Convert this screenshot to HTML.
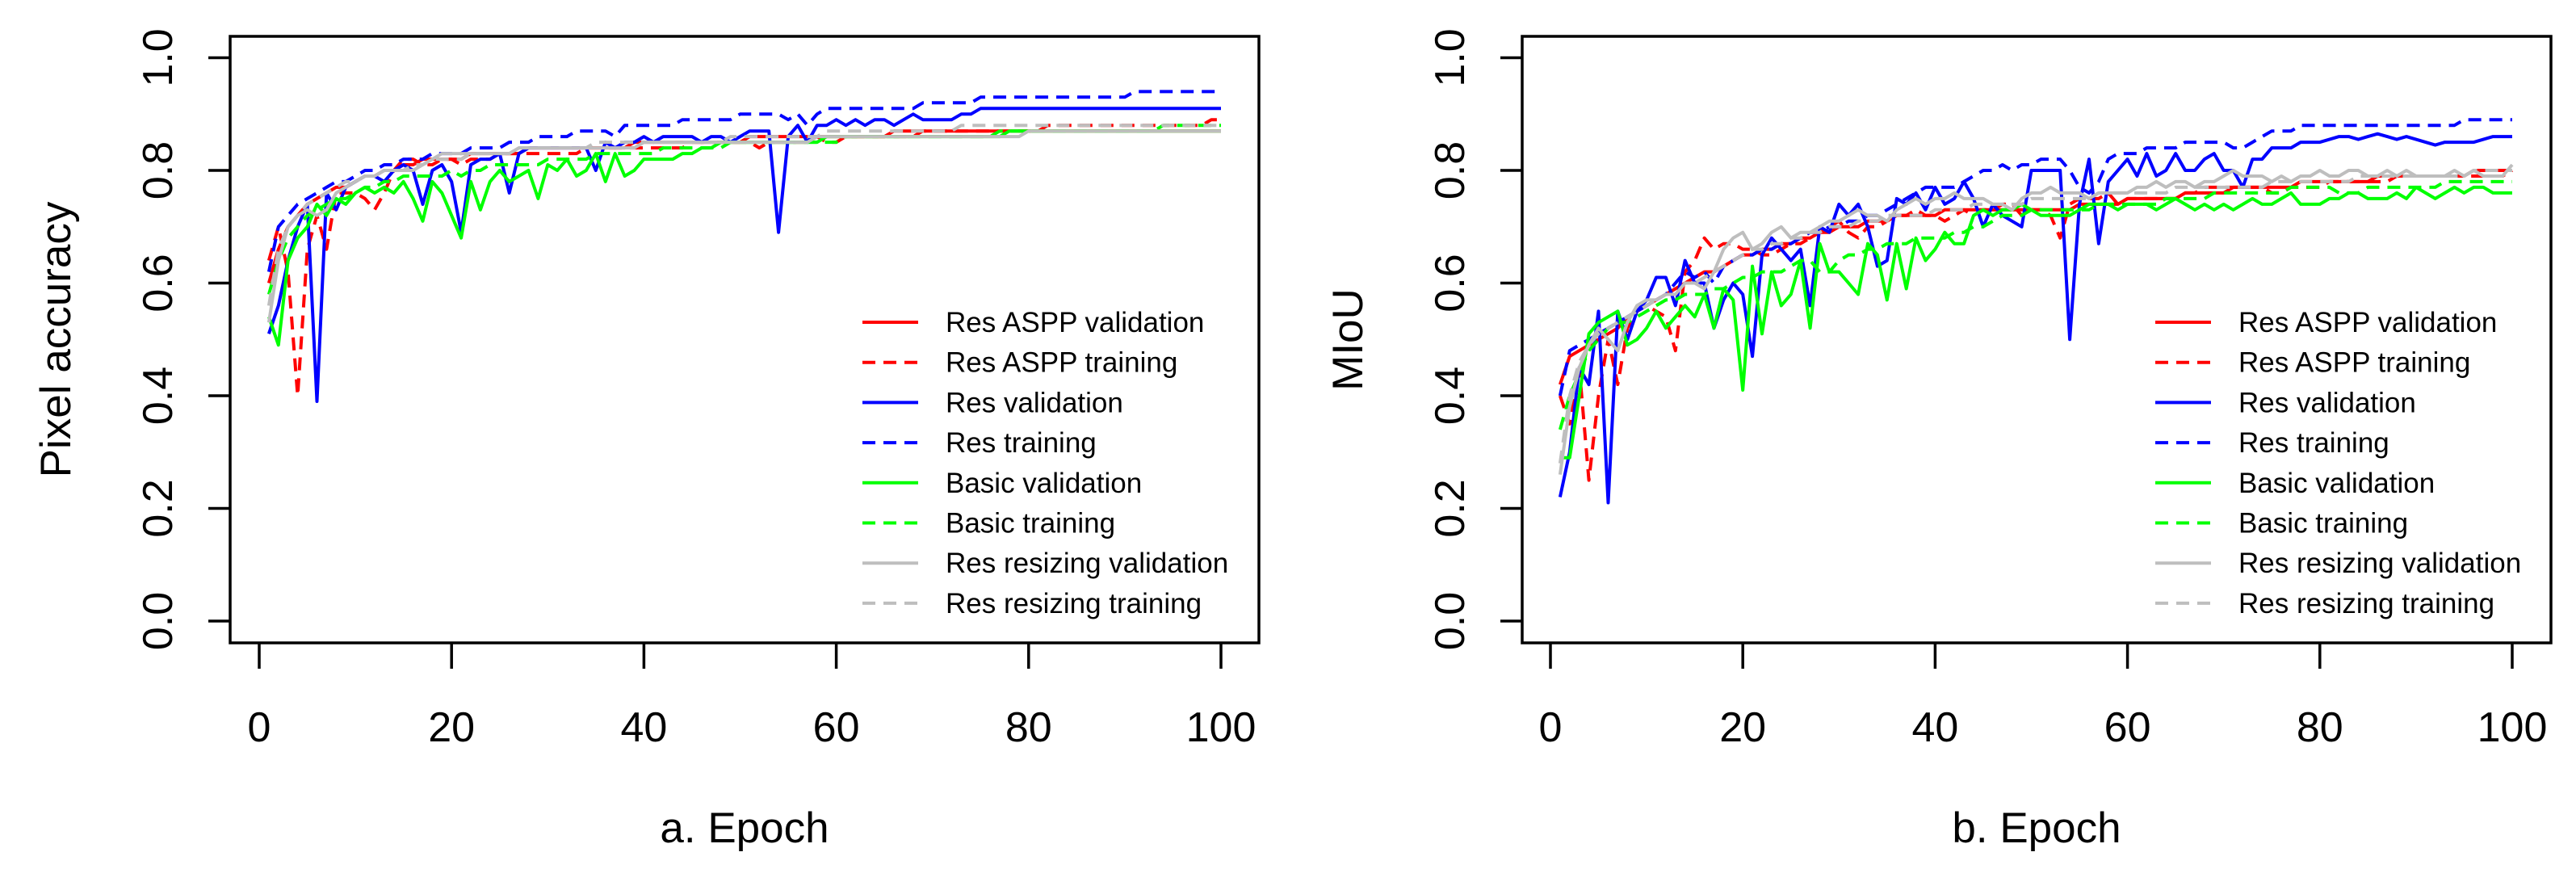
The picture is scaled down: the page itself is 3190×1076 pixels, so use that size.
<!DOCTYPE html>
<html><head><meta charset="utf-8"><style>
html,body{margin:0;padding:0;background:#fff;}
svg{display:block;font-family:"Liberation Sans",Arial,sans-serif;}
</style></head><body>
<svg id="chart" width="3190" height="1076" viewBox="0 0 3190 1076" xmlns="http://www.w3.org/2000/svg"></svg>
<script>
const epochs = Array.from({length:100},(_,i)=>i+1);
const xTicks = [0,20,40,60,80,100];
const yTicks = [0.0,0.2,0.4,0.6,0.8,1.0];
const seriesNames = ["Res ASPP validation","Res ASPP training","Res validation","Res training","Basic validation","Basic training","Res resizing validation","Res resizing training"];

// Pixel accuracy (x100)
const paRedV=[60,66,70,72,74,75,76,77,77,78,79,79,80,80,81,81,82,82,82,82,82,83,83,83,83,83,83,84,84,84,84,84,84,84,84,84,84,84,85,85,85,85,85,85,85,85,85,85,85,85,86,86,86,86,86,86,86,86,86,86,86,86,86,86,86,87,87,87,87,87,87,87,87,87,87,87,87,87,87,87,87,87,87,87,87,87,87,87,87,87,87,87,87,87,87,87,87,87,87,87];
const paRedT=[64,70,62,40,66,72,66,76,76,76,75,73,76,80,82,82,81,81,82,82,81,82,82,82,83,83,83,83,83,83,83,83,83,84,84,84,84,84,84,84,84,84,84,84,85,85,85,85,85,85,85,84,85,85,85,85,85,86,85,85,86,86,86,86,86,86,86,86,87,87,87,87,87,87,87,87,87,87,87,87,87,88,88,88,88,88,88,88,88,88,88,88,88,88,88,88,88,88,89,89];
const paBlueV=[51,56,64,70,74,39,76,73,77,78,79,79,78,80,81,80,74,80,81,78,69,81,82,82,83,76,83,84,84,84,84,84,84,84,80,85,84,85,85,86,85,86,86,86,86,85,86,86,85,86,87,87,87,69,86,88,85,88,88,89,88,89,88,89,89,88,89,90,89,89,89,89,90,90,91,91,91,91,91,91,91,91,91,91,91,91,91,91,91,91,91,91,91,91,91,91,91,91,91,91];
const paBlueT=[62,70,72,74,75,76,77,78,78,79,80,80,81,81,82,82,82,83,83,83,83,84,84,84,84,85,85,85,86,86,86,86,87,87,87,87,86,88,88,88,88,88,88,89,89,89,89,89,89,90,90,90,90,90,89,90,88,90,91,91,91,91,91,91,91,91,91,91,92,92,92,92,92,92,93,93,93,93,93,93,93,93,93,93,93,93,93,93,93,93,94,94,94,94,94,94,94,94,94,94];
const paGreenV=[54,49,64,68,70,74,72,75,74,76,77,76,77,76,78,75,71,78,76,72,68,78,73,78,80,78,79,80,75,81,80,82,79,80,83,78,83,79,80,82,82,82,82,83,83,84,84,85,85,85,85,85,85,85,85,85,85,85,86,86,86,86,86,86,86,86,86,86,86,86,86,86,86,86,86,86,86,87,87,87,87,87,87,87,87,87,87,87,87,87,87,87,87,87,87,87,87,87,87,87];
const paGreenT=[58,64,68,70,72,73,74,75,75,76,77,77,78,78,79,79,79,79,79,80,79,80,80,81,81,81,81,81,81,82,82,82,82,82,83,83,83,83,83,83,83,84,84,84,84,84,84,84,85,85,85,85,85,85,85,85,85,85,85,85,86,86,86,86,86,86,86,86,86,86,86,86,86,86,86,86,87,87,87,87,87,87,87,87,87,87,87,87,87,87,87,87,87,88,88,88,88,88,88,88];
const paGrayV=[53,64,70,72,73,72,73,76,77,78,79,79,80,80,80,80,81,82,83,83,83,83,83,83,83,83,84,84,84,84,84,84,84,84,84,84,84,84,84,85,85,85,85,85,85,85,85,85,85,85,85,85,85,85,85,85,85,86,86,86,86,86,86,86,86,86,86,86,86,86,86,86,86,86,86,86,86,86,86,87,87,87,87,87,87,87,87,87,87,87,87,87,87,87,87,87,87,87,87,87];
const paGrayT=[56,66,70,72,74,75,76,77,78,78,79,79,80,80,80,81,81,82,82,82,82,83,83,83,83,83,84,84,84,84,84,84,84,84,85,85,85,85,85,85,85,85,85,85,85,85,85,85,86,86,86,86,86,86,86,86,86,86,87,87,87,87,87,87,87,87,87,87,87,87,87,87,88,88,88,88,88,88,88,88,88,88,88,88,88,88,88,88,88,88,88,88,88,88,88,88,88,88,88,88];

// MIoU (x100)
const mRedV=[42,47,48,49,50,51,52,54,55,56,57,58,59,60,61,62,62,63,64,65,65,66,66,67,67,68,68,69,69,70,70,70,71,71,71,72,72,72,72,72,73,73,73,73,73,73,73,73,73,73,73,73,73,73,74,74,74,74,74,75,75,75,75,75,75,76,76,76,76,76,77,77,77,77,77,77,77,78,78,78,78,78,78,78,78,79,79,79,79,79,79,79,79,79,79,80,80,80,80,80];
const mRedT=[40,35,45,25,40,50,42,52,55,56,55,54,48,62,64,68,66,67,67,66,66,65,65,66,67,67,68,69,70,71,69,68,70,70,71,72,72,73,72,72,71,72,73,72,73,73,74,74,72,73,73,72,68,74,75,75,75,76,74,75,75,75,75,75,75,76,76,77,77,77,77,77,77,77,76,76,77,77,77,77,78,78,78,78,78,78,78,79,79,79,79,79,79,79,79,79,79,79,79,80];
const mBlueV=[22,30,45,42,55,21,55,50,55,57,61,61,56,64,60,60,52,57,60,58,47,65,68,66,64,66,56,70,69,74,72,74,70,63,64,75,74,76,73,77,74,75,78,75,70,74,72,71,70,80,80,80,80,50,74,82,67,78,80,82,79,83,79,80,83,80,80,82,83,80,80,77,82,82,84,84,84,85,85,85,85.5,86,86,85.5,86,86.5,86,85.5,86,85.5,85,84.5,85,85,85,85,85.5,86,86,86];
const mBlueT=[40,48,49,50,51,52,53,54,55,56,57,58,60,62,61,62,60,63,64,65,65,66,66,67,67,68,69,69,70,70,71,71,72,72,73,74,75,76,77,77,77,77,78,79,80,80,81,80,81,81,82,82,82,80,77,76,78,82,83,83,83,84,84,84,84,85,85,85,85,85,84,84,85,86,87,87,87,88,88,88,88,88,88,88,88,88,88,88,88,88,88,88,88,88,89,89,89,89,89,89];
const mGreenV=[29,29,40,51,53,54,55,49,50,52,55,52,54,56,54,58,52,59,57,41,63,51,62,56,58,64,52,67,62,62,60,58,67,65,57,67,59,68,64,66,69,67,67,72,73,72,73,73,74,73,72,72,72,72,73,74,74,74,73,74,74,74,73,74,75,74,73,74,73,74,73,74,75,74,74,75,76,74,74,74,75,75,76,76,75,75,75,76,75,77,76,75,76,77,76,77,77,76,76,76];
const mGreenT=[34,40,44,48,50,52,53,53,54,55,56,57,57,58,58,58,59,59,60,61,61,62,62,62,63,64,64,62,62,64,65,65,66,66,67,67,67,68,68,68,68,69,69,70,70,71,72,72,72,73,73,73,73,73,73,73,74,74,74,74,74,74,74,75,75,75,75,75,76,76,76,76,76,76,76,76,77,77,77,77,77,76,76,76,77,77,77,77,77,77,77,77,78,78,78,78,78,78,78,78];
const mGrayV=[26,38,45,49,52,50,48,53,56,57,57,58,58,60,60,59,62,66,68,69,66,67,69,70,68,69,69,70,71,71,72,73,72,72,71,73,74,75,74,75,75,76,75,75,75,74,74,73,75,76,76,77,76,76,76,75,76,76,76,76,77,77,78,77,78,78,77,78,78,79,80,79,79,79,78,79,78,79,79,80,79,79,80,80,79,79,80,79,80,79,79,79,79,80,79,80,79,79,79,81];
const mGrayT=[28,40,46,49,51,52,53,54,55,56,57,58,58,60,60,61,62,63,64,65,66,66,67,67,68,68,69,69,70,70,70,71,71,71,72,72,72,72,72,73,73,73,73,74,74,74,74,74,74,75,75,75,75,75,75,75,76,76,76,76,76,76,76,76,77,77,77,77,77,77,77,77,77,77,78,78,78,78,78,78,78,78,78,79,79,79,79,79,79,79,79,79,79,79,79,80,80,80,80,80];

const colors=["#ff0000","#ff0000","#0000ff","#0000ff","#00ff00","#00ff00","#bebebe","#bebebe"];
const dashed=[false,true,false,true,false,true,false,true];
const NS="http://www.w3.org/2000/svg";
const svg=document.getElementById('chart');
function mk(tag,attrs,parent){const e=document.createElementNS(NS,tag);for(const k in attrs)e.setAttribute(k,attrs[k]);(parent||svg).appendChild(e);return e;}

function drawPanel(p){
  const g=mk('g',{});
  
  
  const X=v=>p.x0+(v-0)/(100-0)*(p.x100-p.x0);
  const Y=v=>p.y0+(v-0)/(1-0)*(p.y1-p.y0);
  p.series.forEach((arr,si)=>{
    const pts=arr.map((v,i)=>X(epochs[i]).toFixed(1)+','+Y(v/100).toFixed(1)).join(' ');
    const pl=mk('polyline',{points:pts,fill:'none',stroke:colors[si],'stroke-width':4,'stroke-linejoin':'round'},g);
    if(dashed[si])pl.setAttribute('stroke-dasharray','16 10');
    
    
  });
  const box=mk('rect',{x:p.bl,y:p.bt,width:p.br-p.bl,height:p.bb-p.bt,fill:'none',stroke:'#000','stroke-width':3.5},g);
  
  
  xTicks.forEach(t=>{
    const x=X(t);
    const tk=mk('line',{x1:x,x2:x,y1:p.bb,y2:p.bb+32,stroke:'#000','stroke-width':3.5},g);
    
    
    const tx=mk('text',{x:x,y:918,'font-size':52,'text-anchor':'middle'},g);
    tx.textContent=String(t);
    
    
  });
  yTicks.forEach(t=>{
    const y=Y(t);
    const tk=mk('line',{x1:p.bl,x2:p.bl-27,y1:y,y2:y,stroke:'#000','stroke-width':3.5},g);
    
    
    const tx=mk('text',{x:0,y:0,'font-size':52,'text-anchor':'middle',transform:`translate(${p.bl-72},${y}) rotate(-90)`},g);
    tx.textContent=t.toFixed(1);
    
    
  });
  const xl=mk('text',{x:(p.bl+p.br)/2,y:1043,'font-size':53,'text-anchor':'middle'},g);
  xl.textContent=p.xlabel;
  
  
  const yl=mk('text',{x:0,y:0,'font-size':53,'text-anchor':'middle',transform:`translate(${p.bl-198},${(p.bt+p.bb)/2}) rotate(-90)`},g);
  yl.textContent=p.ylabel;
  
  
  const lg=mk('g',{},g);
  
  
  seriesNames.forEach((n,i)=>{
    const y=399+i*49.7;
    const ent=mk('g',{},lg);
    
    
    const ln=mk('line',{x1:p.lx,x2:p.lx+69,y1:y,y2:y,stroke:colors[i],'stroke-width':4},ent);
    if(dashed[i])ln.setAttribute('stroke-dasharray','16 10');
    
    
    const tx=mk('text',{x:p.lx+103,y:y+12,'font-size':35},ent);
    tx.textContent=n;
    
    
  });
}
drawPanel({name:'pixel-accuracy-chart',bl:285,br:1559,bt:45,bb:796,x0:321,x100:1512,y0:769,y1:71.5,lx:1068,xlabel:'a. Epoch',ylabel:'Pixel accuracy',
  series:[paRedV,paRedT,paBlueV,paBlueT,paGreenV,paGreenT,paGrayV,paGrayT]});
drawPanel({name:'miou-chart',bl:1885,br:3159,bt:45,bb:796,x0:1920,x100:3111,y0:769,y1:71.5,lx:2669,xlabel:'b. Epoch',ylabel:'MIoU',
  series:[mRedV,mRedT,mBlueV,mBlueT,mGreenV,mGreenT,mGrayV,mGrayT]});
</script>
</body></html>
